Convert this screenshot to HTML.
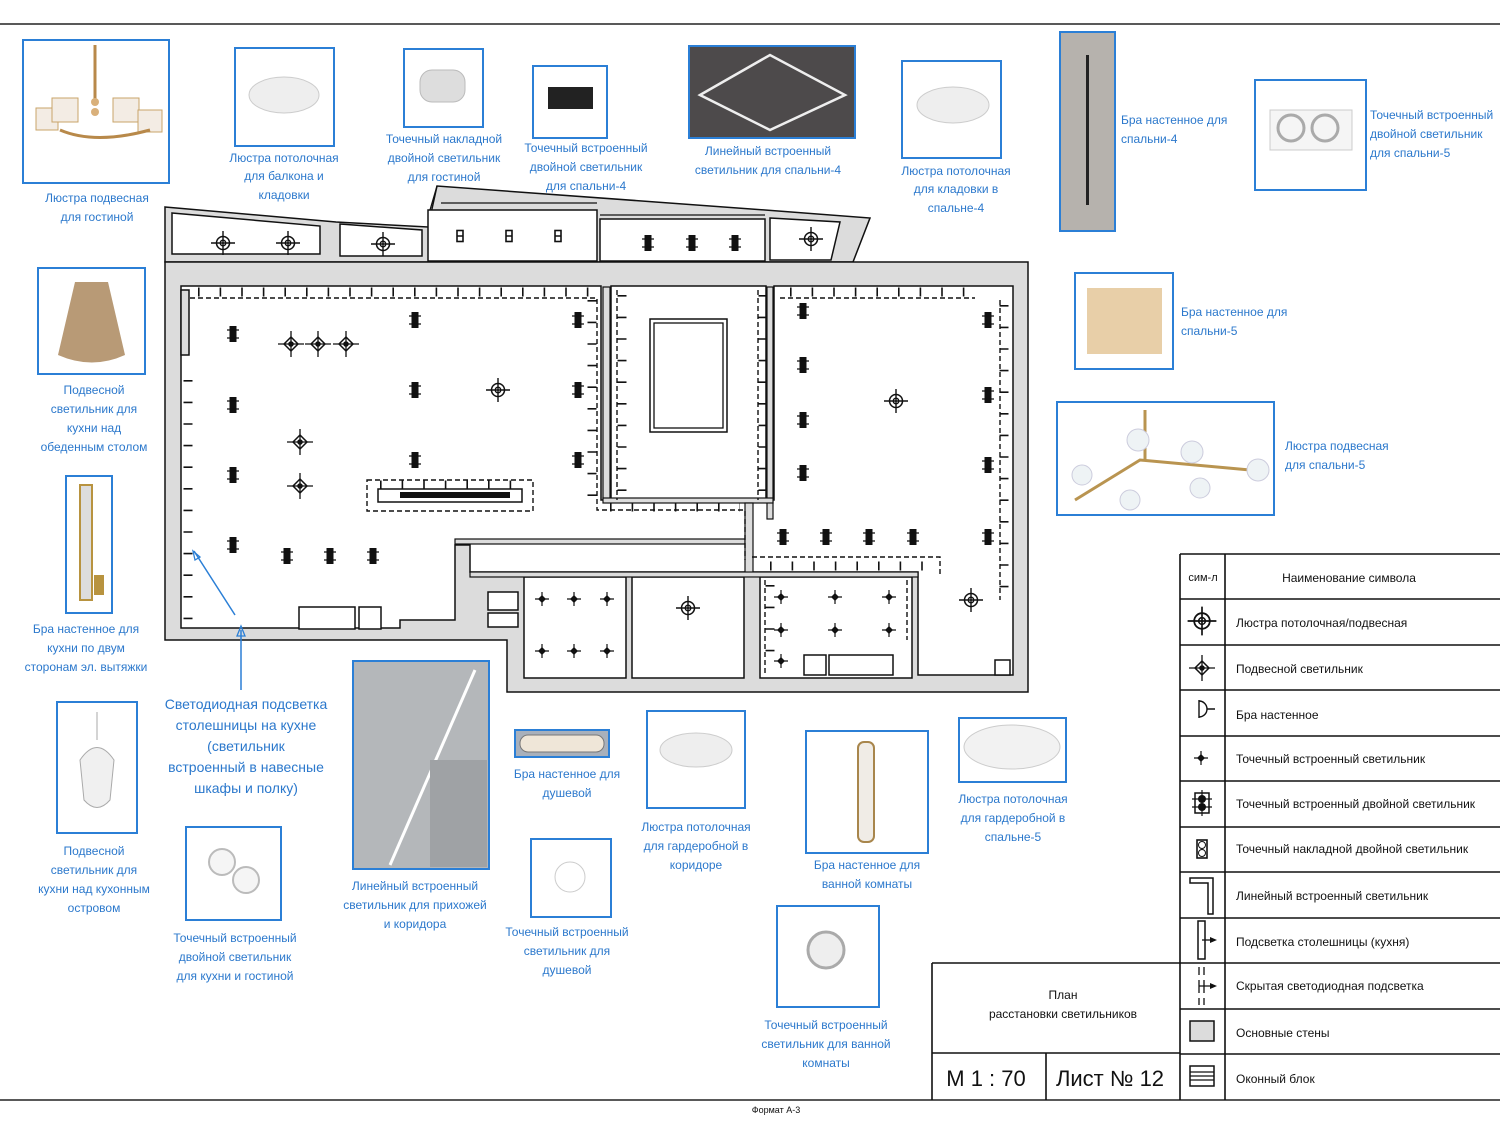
<!DOCTYPE html>
<html><head><meta charset="utf-8">
<style>
html,body{margin:0;padding:0;background:#fff;}
svg{display:block;}
.c{font-family:"Liberation Sans Narrow","Liberation Sans","DejaVu Sans Condensed",sans-serif;font-size:12px;fill:#2b78cc;}
.k{font-family:"Liberation Sans Narrow","Liberation Sans",sans-serif;font-size:12px;fill:#111;}
.ph{fill:#fff;stroke:#2b7fd6;stroke-width:2;}
.w{fill:#dcdcdc;stroke:#111;stroke-width:1.5;}
.r{fill:#fff;stroke:#111;stroke-width:1.5;}
.d{fill:none;stroke:#111;stroke-width:1.4;stroke-dasharray:5 3;}
.t{fill:none;stroke:#111;stroke-width:9;stroke-dasharray:1.6 20;}
.l{fill:none;stroke:#111;stroke-width:1.3;}
</style></head><body>
<svg width="1500" height="1125" viewBox="0 0 1500 1125" xmlns="http://www.w3.org/2000/svg">
<defs>
<g id="ch"><circle r="6.5" fill="none" stroke="#111" stroke-width="1.5"/><circle r="2.8" fill="none" stroke="#111" stroke-width="1.3"/><path d="M-12 0H12M0-12V12" stroke="#111" stroke-width="1.4"/></g>
<g id="pd"><path d="M0-7L7 0 0 7-7 0Z" fill="none" stroke="#111" stroke-width="1.5"/><circle r="2.8" fill="#111"/><path d="M-13 0H13M0-13V13" stroke="#111" stroke-width="1.3"/></g>
<g id="sp"><path d="M0-4L4 0 0 4-4 0Z" fill="#111"/><path d="M-7 0H7M0-7V7" stroke="#111" stroke-width="1.2"/></g>
<g id="db"><rect x="-3.5" y="-8" width="7" height="16" fill="#111"/><path d="M-6-4H6M-6 4H6" stroke="#111" stroke-width="1.3"/></g>
<g id="sf"><rect x="-3" y="-5.5" width="6" height="11" fill="#fff" stroke="#111" stroke-width="1.6"/><path d="M-3 0H3" stroke="#111" stroke-width="1.5"/></g>
</defs>

<line x1="0" y1="24" x2="1500" y2="24" stroke="#222" stroke-width="1.5"/>
<line x1="0" y1="1100" x2="1500" y2="1100" stroke="#222" stroke-width="1.5"/>
<text x="776" y="1113" text-anchor="middle" style="font-family:'Liberation Sans',sans-serif;font-size:9px;fill:#111">Формат А-3</text>

<!-- ===== PLAN ===== -->
<path class="w" d="M165 207L336 222 428 227 437 186 765 210 870 218 853 262 165 262Z"/>
<path class="r" d="M172 213L320 226 320 254 172 254Z"/>
<path class="r" d="M340 224L422 230 422 256 340 256Z"/>
<path class="r" d="M428 210H597V261H428Z"/>
<path class="r" d="M600 219H765V261H600Z"/>
<path class="r" d="M770 218L840 222 831 260 770 260Z"/>
<path class="l" d="M437 186L430 210M441 203H597M600 215H765"/>
<path class="w" d="M165 262H1028V692H507V640H165Z"/>
<!-- interior white -->
<path class="r" d="M181 286H601V500H611V286H766V500H774V286H1013V675H918V572H470V545H455V620H400V628H181Z"/>
<rect x="603" y="287" width="7" height="212" fill="#dcdcdc" stroke="#111" stroke-width="1.2"/>
<rect x="767" y="287" width="6" height="232" fill="#dcdcdc" stroke="#111" stroke-width="1.2"/>
<rect x="603" y="498" width="170" height="5" fill="#dcdcdc" stroke="#111" stroke-width="1.2"/>
<rect x="455" y="539" width="290" height="5" fill="#dcdcdc" stroke="#111" stroke-width="1.2"/>
<rect x="745" y="503" width="8" height="72" fill="#dcdcdc" stroke="#111" stroke-width="1.2"/>
<path class="r" d="M524 577H626V678H524Z"/>
<path class="r" d="M632 577H744V678H632Z"/>
<path class="r" d="M760 577H912V678H760Z"/>
<rect x="470" y="572" width="448" height="5" fill="#dcdcdc" stroke="#111" stroke-width="1.2"/>
<rect class="r" x="650" y="319" width="77" height="113"/>
<rect class="l" x="654" y="323" width="69" height="105"/>
<rect class="r" x="299" y="607" width="56" height="22"/><rect class="r" x="359" y="607" width="22" height="22"/>
<rect class="r" x="488" y="592" width="30" height="18"/><rect class="r" x="488" y="613" width="30" height="14"/>
<rect class="r" x="804" y="655" width="22" height="20"/><rect class="r" x="829" y="655" width="64" height="20"/>
<rect class="r" x="995" y="660" width="15" height="15"/>
<rect class="w" x="181" y="290" width="8" height="65"/>
<!-- LED strips -->
<path class="d" d="M190 298H597V510H745V560"/>
<line class="t" x1="198" y1="292" x2="597" y2="292"/>
<line class="t" x1="592" y1="300" x2="592" y2="505"/>
<line class="t" x1="188" y1="380" x2="188" y2="620"/>
<path class="d" d="M617 290V500M758 290V500"/>
<line class="t" x1="622" y1="295" x2="622" y2="495"/>
<line class="t" x1="763" y1="295" x2="763" y2="495"/>
<line class="t" x1="610" y1="507" x2="740" y2="507"/>
<path class="d" d="M780 298H975M1000 300V600M752 557H940V575"/>
<line class="t" x1="790" y1="292" x2="975" y2="292"/>
<line class="t" x1="1004" y1="305" x2="1004" y2="600"/>
<line class="t" x1="770" y1="566" x2="930" y2="566"/>
<path class="d" d="M765 580V675M907 580V640"/>
<line class="t" x1="770" y1="585" x2="770" y2="670"/>
<rect class="d" x="367" y="480" width="166" height="31"/>
<rect class="r" x="378" y="489" width="144" height="13"/>
<rect x="400" y="492" width="110" height="6" fill="#111"/>
<line class="t" x1="380" y1="485" x2="522" y2="485"/>
<!-- fixtures -->
<use href="#ch" x="223" y="243"/><use href="#ch" x="288" y="243"/><use href="#ch" x="383" y="244"/><use href="#ch" x="811" y="239"/>
<use href="#ch" x="498" y="390"/><use href="#ch" x="896" y="401"/><use href="#ch" x="688" y="608"/><use href="#ch" x="971" y="600"/>
<use href="#pd" x="291" y="344"/><use href="#pd" x="318" y="344"/><use href="#pd" x="346" y="344"/><use href="#pd" x="300" y="442"/><use href="#pd" x="300" y="486"/>
<use href="#sf" x="460" y="236"/><use href="#sf" x="509" y="236"/><use href="#sf" x="558" y="236"/>
<use href="#db" x="648" y="243"/><use href="#db" x="692" y="243"/><use href="#db" x="735" y="243"/>
<use href="#db" x="233" y="334"/><use href="#db" x="415" y="320"/><use href="#db" x="578" y="320"/>
<use href="#db" x="233" y="405"/><use href="#db" x="415" y="390"/><use href="#db" x="578" y="390"/>
<use href="#db" x="233" y="475"/><use href="#db" x="415" y="460"/><use href="#db" x="578" y="460"/>
<use href="#db" x="233" y="545"/><use href="#db" x="287" y="556"/><use href="#db" x="330" y="556"/><use href="#db" x="373" y="556"/>
<use href="#db" x="803" y="311"/><use href="#db" x="803" y="365"/><use href="#db" x="803" y="420"/><use href="#db" x="803" y="473"/>
<use href="#db" x="988" y="320"/><use href="#db" x="988" y="395"/><use href="#db" x="988" y="465"/><use href="#db" x="988" y="537"/>
<use href="#db" x="783" y="537"/><use href="#db" x="826" y="537"/><use href="#db" x="869" y="537"/><use href="#db" x="913" y="537"/>
<use href="#sp" x="542" y="599"/><use href="#sp" x="574" y="599"/><use href="#sp" x="607" y="599"/><use href="#sp" x="542" y="651"/><use href="#sp" x="574" y="651"/><use href="#sp" x="607" y="651"/>
<use href="#sp" x="781" y="597"/><use href="#sp" x="835" y="597"/><use href="#sp" x="889" y="597"/><use href="#sp" x="781" y="630"/><use href="#sp" x="835" y="630"/><use href="#sp" x="889" y="630"/><use href="#sp" x="781" y="661"/>
<path d="M241 690V630M235 615L194 551" stroke="#2b7fd6" stroke-width="1.5" fill="none"/>
<path d="M237 636L241 626 245 636Z M193 551L200 557 195 560Z" fill="none" stroke="#2b7fd6" stroke-width="1.3"/>

<!-- ===== PHOTOS ===== -->
<rect class="ph" x="23" y="40" width="146" height="143"/>
<g fill="#f3ece4" stroke="#c9a46a"><rect x="36" y="108" width="22" height="22"/><rect x="52" y="98" width="26" height="24"/><rect x="113" y="98" width="26" height="24"/><rect x="138" y="110" width="24" height="22"/></g>
<path d="M95 45V100M60 130Q95 145 150 130" stroke="#b8894a" stroke-width="3" fill="none"/><circle cx="95" cy="102" r="4" fill="#d9b07a"/><circle cx="95" cy="112" r="4" fill="#d9b07a"/>
<rect class="ph" x="235" y="48" width="99" height="98"/><ellipse cx="284" cy="95" rx="35" ry="18" fill="#eee" stroke="#ccc"/>
<rect class="ph" x="404" y="49" width="79" height="78"/><rect x="420" y="70" width="45" height="32" rx="12" fill="#ddd" stroke="#bbb"/>
<rect class="ph" x="533" y="66" width="74" height="72"/><rect x="548" y="87" width="45" height="22" fill="#222"/>
<rect class="ph" x="689" y="46" width="166" height="92" style="fill:#4d4a4b"/><path d="M700 95L770 55 845 95 770 130Z" fill="none" stroke="#eee" stroke-width="2.5"/>
<rect class="ph" x="902" y="61" width="99" height="97"/><ellipse cx="953" cy="105" rx="36" ry="18" fill="#eee" stroke="#ccc"/>
<rect class="ph" x="1060" y="32" width="55" height="199" style="fill:#b6b2ad"/><rect x="1086" y="55" width="3" height="150" fill="#222"/>
<rect class="ph" x="1255" y="80" width="111" height="110"/><rect x="1270" y="110" width="82" height="40" fill="#f5f5f5" stroke="#ccc"/><circle cx="1291" cy="128" r="13" fill="none" stroke="#aaa" stroke-width="3"/><circle cx="1325" cy="128" r="13" fill="none" stroke="#aaa" stroke-width="3"/>
<rect class="ph" x="38" y="268" width="107" height="106"/><path d="M75 282H108L125 355Q92 370 58 355Z" fill="#b89a76"/>
<rect class="ph" x="1075" y="273" width="98" height="96"/><rect x="1087" y="288" width="75" height="66" fill="#e8cfa8"/>
<rect class="ph" x="1057" y="402" width="217" height="113"/><path d="M1145 410V460M1075 500L1140 460 1250 470" stroke="#b99450" stroke-width="3" fill="none"/><g fill="#eef3f5" stroke="#ccd"><circle cx="1082" cy="475" r="10"/><circle cx="1138" cy="440" r="11"/><circle cx="1192" cy="452" r="11"/><circle cx="1258" cy="470" r="11"/><circle cx="1130" cy="500" r="10"/><circle cx="1200" cy="488" r="10"/></g>
<rect class="ph" x="66" y="476" width="46" height="137"/><rect x="80" y="485" width="12" height="115" fill="#ddd" stroke="#b8933f" stroke-width="2"/><rect x="94" y="575" width="10" height="20" fill="#b8933f"/>
<rect class="ph" x="57" y="702" width="80" height="131"/><path d="M97 712V740M80 760Q97 735 114 760L110 800Q97 815 84 800Z" fill="#f0f0f0" stroke="#aaa"/>
<rect class="ph" x="186" y="827" width="95" height="93"/><circle cx="222" cy="862" r="13" fill="#f5f5f5" stroke="#bbb" stroke-width="2"/><circle cx="246" cy="880" r="13" fill="#f5f5f5" stroke="#bbb" stroke-width="2"/>
<rect class="ph" x="353" y="661" width="136" height="208" style="fill:#b4b7ba"/><path d="M475 670L390 865" stroke="#fff" stroke-width="3"/><rect x="430" y="760" width="57" height="107" fill="#9fa2a5"/>
<rect class="ph" x="515" y="730" width="94" height="27" style="fill:#a8b0bb"/><rect x="520" y="735" width="84" height="17" rx="8" fill="#efe6d8" stroke="#777"/>
<rect class="ph" x="531" y="839" width="80" height="78"/><circle cx="570" cy="877" r="15" fill="#fff" stroke="#ccc"/>
<rect class="ph" x="647" y="711" width="98" height="97"/><ellipse cx="696" cy="750" rx="36" ry="17" fill="#eee" stroke="#ccc"/>
<rect class="ph" x="806" y="731" width="122" height="122"/><rect x="858" y="742" width="16" height="100" rx="6" fill="#f0ece6" stroke="#a8864c" stroke-width="2"/>
<rect class="ph" x="959" y="718" width="107" height="64"/><ellipse cx="1012" cy="747" rx="48" ry="22" fill="#f2f2f2" stroke="#ccc"/>
<rect class="ph" x="777" y="906" width="102" height="101"/><circle cx="826" cy="950" r="18" fill="#eee" stroke="#aaa" stroke-width="3"/>

<!-- ===== CAPTIONS ===== -->
<g class="c" text-anchor="middle">
<text x="97" y="202">Люстра подвесная</text><text x="97" y="221">для гостиной</text>
<text x="284" y="162">Люстра потолочная</text><text x="284" y="180">для балкона и</text><text x="284" y="199">кладовки</text>
<text x="444" y="143">Точечный накладной</text><text x="444" y="162">двойной светильник</text><text x="444" y="181">для гостиной</text>
<text x="586" y="152">Точечный встроенный</text><text x="586" y="171">двойной светильник</text><text x="586" y="190">для спальни-4</text>
<text x="768" y="155">Линейный встроенный</text><text x="768" y="174">светильник для спальни-4</text>
<text x="956" y="175">Люстра потолочная</text><text x="956" y="193">для кладовки в</text><text x="956" y="212">спальне-4</text>
<text x="94" y="394">Подвесной</text><text x="94" y="413">светильник для</text><text x="94" y="432">кухни над</text><text x="94" y="451">обеденным столом</text>
<text x="86" y="633">Бра настенное для</text><text x="86" y="652">кухни по двум</text><text x="86" y="671">сторонам эл. вытяжки</text>
<text x="94" y="855">Подвесной</text><text x="94" y="874">светильник для</text><text x="94" y="893">кухни над кухонным</text><text x="94" y="912">островом</text>
<g style="font-size:14px"><text x="246" y="709">Светодиодная подсветка</text><text x="246" y="730">столешницы на кухне</text><text x="246" y="751">(светильник</text><text x="246" y="772">встроенный в навесные</text><text x="246" y="793">шкафы и полку)</text></g>
<text x="235" y="942">Точечный встроенный</text><text x="235" y="961">двойной светильник</text><text x="235" y="980">для кухни и гостиной</text>
<text x="415" y="890">Линейный встроенный</text><text x="415" y="909">светильник для прихожей</text><text x="415" y="928">и коридора</text>
<text x="567" y="778">Бра настенное для</text><text x="567" y="797">душевой</text>
<text x="567" y="936">Точечный встроенный</text><text x="567" y="955">светильник для</text><text x="567" y="974">душевой</text>
<text x="696" y="831">Люстра потолочная</text><text x="696" y="850">для гардеробной в</text><text x="696" y="869">коридоре</text>
<text x="867" y="869">Бра настенное для</text><text x="867" y="888">ванной комнаты</text>
<text x="1013" y="803">Люстра потолочная</text><text x="1013" y="822">для гардеробной в</text><text x="1013" y="841">спальне-5</text>
<text x="826" y="1029">Точечный встроенный</text><text x="826" y="1048">светильник для ванной</text><text x="826" y="1067">комнаты</text>
</g>
<g class="c">
<text x="1121" y="124">Бра настенное для</text><text x="1121" y="143">спальни-4</text>
<text x="1370" y="119">Точечный встроенный</text><text x="1370" y="138">двойной светильник</text><text x="1370" y="157">для спальни-5</text>
<text x="1181" y="316">Бра настенное для</text><text x="1181" y="335">спальни-5</text>
<text x="1285" y="450">Люстра подвесная</text><text x="1285" y="469">для спальни-5</text>
</g>

<!-- ===== TITLE BLOCK ===== -->
<g stroke="#111" stroke-width="1.6" fill="none">
<path d="M932 963H1180M932 963V1100M932 1053H1180M1046 1053V1100"/>
<path d="M1180 554H1500M1180 554V1100M1225 554V1100"/>
<path d="M1180 599H1500M1180 645H1500M1180 690H1500M1180 736H1500M1180 781H1500M1180 827H1500M1180 872H1500M1180 918H1500M1180 963H1500M1180 1009H1500M1180 1054H1500"/>
</g>
<g class="k" text-anchor="middle"><text x="1063" y="999">План</text><text x="1063" y="1018">расстановки светильников</text>
<text x="986" y="1086" style="font-size:22px">М 1 : 70</text><text x="1110" y="1086" style="font-size:22px">Лист № 12</text>
<text x="1203" y="581" style="font-size:11px">сим-л</text><text x="1349" y="582">Наименование символа</text></g>
<g class="k">
<text x="1236" y="627">Люстра потолочная/подвесная</text>
<text x="1236" y="673">Подвесной светильник</text>
<text x="1236" y="719">Бра настенное</text>
<text x="1236" y="763">Точечный встроенный светильник</text>
<text x="1236" y="808">Точечный встроенный двойной светильник</text>
<text x="1236" y="853">Точечный накладной двойной светильник</text>
<text x="1236" y="900">Линейный встроенный светильник</text>
<text x="1236" y="946">Подсветка столешницы (кухня)</text>
<text x="1236" y="990">Скрытая светодиодная подсветка</text>
<text x="1236" y="1037">Основные стены</text>
<text x="1236" y="1083">Оконный блок</text>
</g>
<use href="#ch" x="1202" y="621" transform="translate(-240.4 -124.2) scale(1.2)"/>
<use href="#pd" x="1202" y="668"/>
<path d="M1199 700V718M1199 701A8 8 0 0 1 1199 717M1207 709H1215" stroke="#111" stroke-width="1.4" fill="none"/>
<use href="#sp" x="1201" y="758"/>
<g transform="translate(1202 803)"><rect x="-7" y="-10" width="14" height="20" fill="none" stroke="#111" stroke-width="1.5"/><circle cy="-4" r="4" fill="#111"/><circle cy="4" r="4" fill="#111"/><path d="M-10-4H10M-10 4H10M0-13V13" stroke="#111" stroke-width="1.2"/></g>
<g transform="translate(1202 849)"><rect x="-5" y="-9" width="10" height="18" fill="none" stroke="#111" stroke-width="1.6"/><circle cy="-4" r="3.5" fill="none" stroke="#111"/><circle cy="4" r="3.5" fill="none" stroke="#111"/></g>
<path d="M1190 878H1213V914H1208V883H1190Z" fill="none" stroke="#111" stroke-width="1.5"/>
<rect x="1198" y="921" width="7" height="38" fill="none" stroke="#111" stroke-width="1.5"/><path d="M1202 940H1214" stroke="#111" stroke-width="1.3"/><path d="M1210 937L1217 940 1210 943Z" fill="#111"/>
<path d="M1199 967V975M1199 980V993M1199 998V1005M1204 967V975M1204 980V993M1204 998V1005M1199 986H1213" stroke="#111" stroke-width="1.3"/><path d="M1210 983L1217 986 1210 989Z" fill="#111"/>
<rect x="1190" y="1021" width="24" height="20" fill="#dcdcdc" stroke="#111" stroke-width="1.5"/>
<rect x="1190" y="1066" width="24" height="20" fill="#fff" stroke="#111" stroke-width="1.5"/><path d="M1190 1072H1214M1190 1076H1214M1190 1080H1214" stroke="#111" stroke-width="1.2"/>
</svg>
</body></html>
